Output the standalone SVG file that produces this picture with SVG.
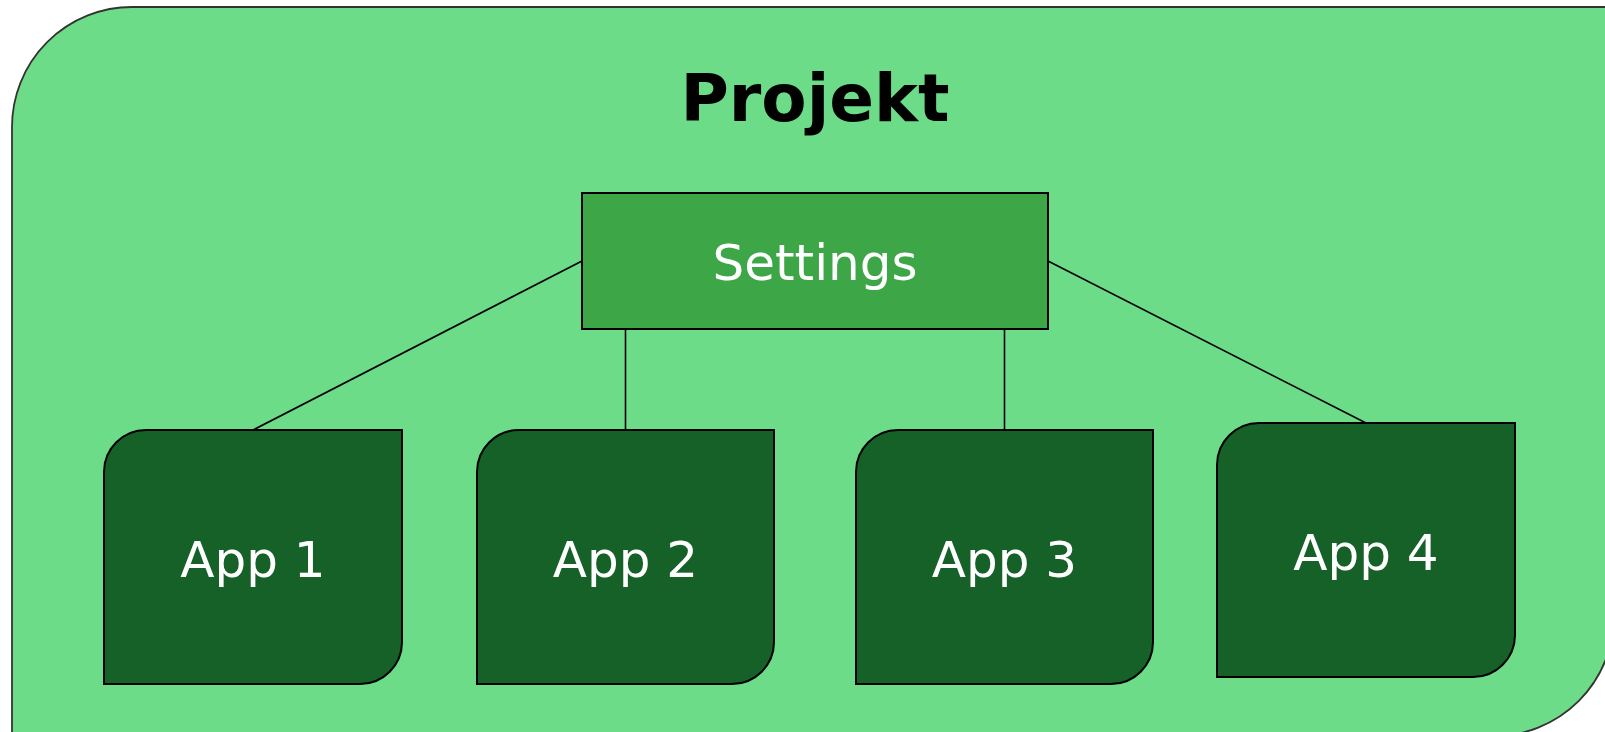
<svg xmlns="http://www.w3.org/2000/svg" width="1605" height="732" viewBox="0 0 1605 732">
<style>
.app{fill:#156128;stroke:#000;stroke-width:2}
.lbl{font-family:"DejaVu Sans",Verdana,sans-serif;font-size:50px;fill:#fff;text-anchor:middle}
.conn{stroke:#000;stroke-width:1.6;fill:none}
</style>
<g id="projekt">
<path d="M12,127 A120,120 0 0 1 132,7 H1614 V616 A120,120 0 0 1 1494,736 H12 Z" fill="#6ddc88" stroke="#333" stroke-width="1.8"/>
<text x="815" y="121" font-family="'DejaVu Sans',Verdana,sans-serif" font-weight="bold" font-size="66" text-anchor="middle" fill="#000">Projekt</text>
</g>
<g id="connectors">
<line class="conn" x1="582" y1="261" x2="253" y2="430"/>
<line class="conn" x1="625.5" y1="329" x2="625.5" y2="430"/>
<line class="conn" x1="1004.5" y1="329" x2="1004.5" y2="430"/>
<line class="conn" x1="1048" y1="261" x2="1366" y2="423"/>
</g>
<g id="settings">
<rect x="582" y="193" width="466" height="136" fill="#3da646" stroke="#000" stroke-width="2"/>
<text class="lbl" x="815" y="280">Settings</text>
</g>
<g id="app1">
<path class="app" d="M104,472 A42,42 0 0 1 146,430 H402 V642 A42,42 0 0 1 360,684 H104 Z"/>
<text class="lbl" x="253" y="577">App 1</text>
</g>
<g id="app2">
<path class="app" d="M477,472 A42,42 0 0 1 519,430 H774 V642 A42,42 0 0 1 732,684 H477 Z"/>
<text class="lbl" x="625.5" y="577">App 2</text>
</g>
<g id="app3">
<path class="app" d="M856,472 A42,42 0 0 1 898,430 H1153 V642 A42,42 0 0 1 1111,684 H856 Z"/>
<text class="lbl" x="1004.5" y="577">App 3</text>
</g>
<g id="app4">
<path class="app" d="M1217,465 A42,42 0 0 1 1259,423 H1515 V635 A42,42 0 0 1 1473,677 H1217 Z"/>
<text class="lbl" x="1366" y="570">App 4</text>
</g>
</svg>
